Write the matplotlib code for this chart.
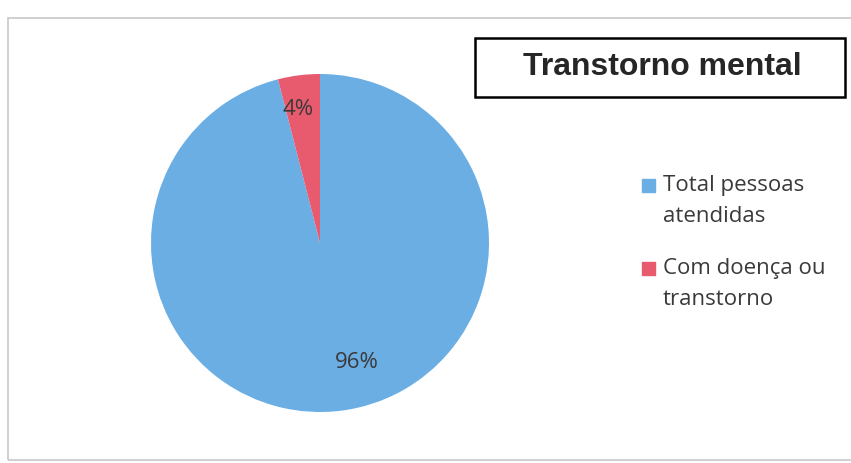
import matplotlib.pyplot as plt
from matplotlib.patches import Rectangle

# data
labels = ["Total pessoas\natendidas", "Com doença ou\ntranstorno"]
values = [96, 4]
colors = ["#6aaee4", "#e85a6e"]
title = "Transtorno mental"

W, H = 851, 463
fig = plt.figure(figsize=(W / 100, H / 100), dpi=100)
fig.patch.set_facecolor("white")

# outer chart frame
fig.patches.append(Rectangle((8 / W, 3 / H), 1.0, (H - 21) / H,
                             transform=fig.transFigure, fill=False,
                             edgecolor="#c8c8c8", lw=1.2))

# pie
cx, cy, r = 320, 243, 169
ax = fig.add_axes([(cx - r) / W, (H - cy - r) / H, 2 * r / W, 2 * r / H])
ax.pie(values, colors=colors, startangle=90, counterclock=False,
       wedgeprops=dict(linewidth=0))
# data label positions (in pie radius units), placed as in the original
label_pos = [(0.22, -0.71), (-0.13, 0.79)]
for v, (lx, ly) in zip(values, label_pos):
    ax.text(lx, ly, f"{v}%", ha="center", va="center", fontsize=16,
            color="#3a3a3a", family="Open Sans")
ax.set_xlim(-1, 1)
ax.set_ylim(-1, 1)
ax.set_aspect("equal")
ax.axis("off")

# title box
fig.patches.append(Rectangle((475 / W, (H - 97) / H), 370 / W, 59 / H,
                             transform=fig.transFigure, fill=False,
                             edgecolor="black", lw=1.8))
fig.text(662 / W, (H - 67) / H, title, ha="center", va="center",
         fontsize=23, fontweight="bold", color="#262626",
         family="Liberation Sans")

# legend
rows = [185, 268]
for lab, col, yy in zip(labels, colors, rows):
    fig.patches.append(Rectangle((642 / W, (H - yy - 6.5) / H), 13 / W, 13 / H,
                                 transform=fig.transFigure, color=col))
    fig.text(663 / W, (H - yy + 10) / H, lab, ha="left", va="top",
             fontsize=16, color="#3a3a3a", family="Open Sans", linespacing=1.6)

fig.savefig("out.png", dpi=100)
